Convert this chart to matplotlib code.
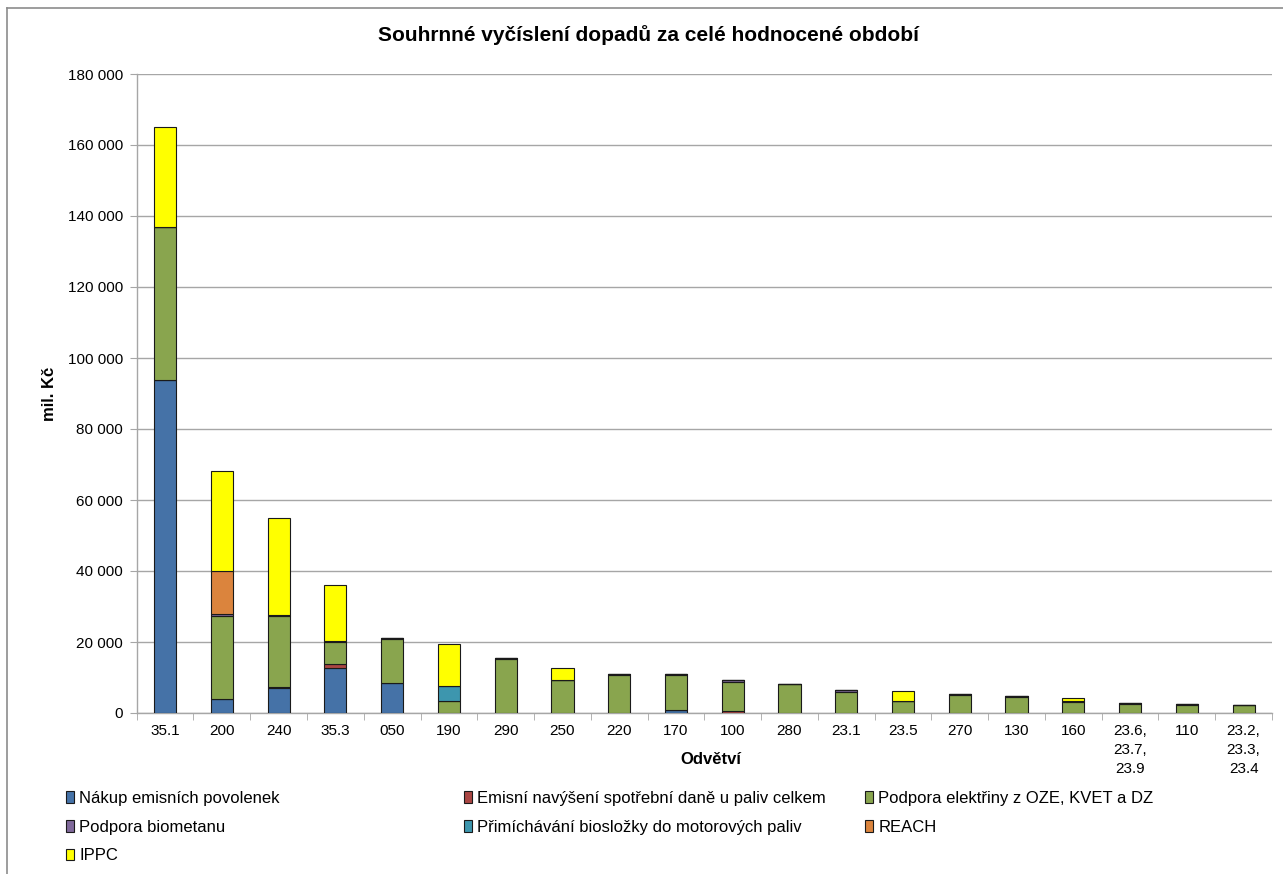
import matplotlib
matplotlib.use("Agg")
import matplotlib.pyplot as plt
from matplotlib.ticker import FuncFormatter, MultipleLocator, FixedLocator
from matplotlib.lines import Line2D
import numpy as np

plt.rcParams['font.family'] = ['Liberation Sans', 'DejaVu Sans']

title = "Souhrnné vyčíslení dopadů za celé hodnocené období"
ylabel = "mil. Kč"
xlabel = "Odvětví"

categories = ['35.1', '200', '240', '35.3', '050', '190', '290', '250', '220', '170',
              '100', '280', '23.1', '23.5', '270', '130', '160',
              '23.6,\n23.7,\n23.9', '110', '23.2,\n23.3,\n23.4']

series_names = [
    "Nákup emisních povolenek",
    "Emisní navýšení spotřební daně u paliv celkem",
    "Podpora elektřiny z OZE, KVET a DZ",
    "Podpora biometanu",
    "Přimíchávání biosložky do motorových paliv",
    "REACH",
    "IPPC",
]

nakup = [93800, 3850, 7000, 12800, 8400, 0, 0, 0, 0, 800,
         0, 0, 0, 0, 0, 0, 0, 0, 0, 0]
dan = [0, 0, 300, 1100, 0, 0, 0, 0, 0, 0,
       700, 0, 0, 0, 0, 0, 0, 0, 0, 0]
elektrina = [43000, 23600, 19900, 6000, 12500, 3300, 15300, 9200, 10600, 9900,
             8100, 8150, 6000, 3500, 5200, 4400, 3200, 2600, 2200, 2150]
biometan = [200, 300, 300, 300, 300, 0, 300, 0, 300, 200,
            600, 100, 500, 0, 100, 400, 300, 100, 300, 50]
bioslozka = [0, 0, 0, 0, 0, 4200, 0, 0, 0, 0,
             0, 0, 0, 0, 0, 0, 0, 0, 0, 0]
reach = [0, 12200, 0, 0, 0, 0, 0, 0, 0, 0,
         0, 0, 0, 0, 0, 0, 0, 0, 0, 0]
ippc = [28200, 28200, 27500, 15800, 0, 12000, 0, 3500, 0, 0,
        0, 0, 0, 2600, 0, 0, 700, 0, 0, 0]

colors = ['#4572A7', '#AA4643', '#89A54E', '#80699B', '#3D96AE', '#DB843D', '#FFFF00']

W, H = 1283, 874
fig = plt.figure(figsize=(W / 100, H / 100), dpi=100)
fig.patch.set_facecolor('white')

ax = fig.add_axes([136.7 / W, 1 - 713 / H, (1272 - 136.7) / W, (713 - 74) / H])

x = np.arange(len(categories))
bottom = np.zeros(len(categories))
containers = []
for vals, col, name in zip([nakup, dan, elektrina, biometan, bioslozka, reach, ippc],
                           colors, series_names):
    v = np.array(vals, dtype=float)
    bc = ax.bar(x, v, width=0.39, bottom=bottom, color=col, edgecolor='#1a1a1a',
                linewidth=0.8, label=name, zorder=3)
    containers.append(bc)
    bottom += v

ax.set_xlim(-0.5, len(categories) - 0.5)
ax.set_ylim(0, 180000)
ax.yaxis.set_major_locator(MultipleLocator(20000))
ax.yaxis.set_major_formatter(FuncFormatter(lambda v, p: f"{int(v):,}".replace(',', ' ')))
ax.grid(axis='y', color='#a6a6a6', linewidth=1.0, zorder=0)
ax.set_axisbelow(True)

for s in ['top', 'right']:
    ax.spines[s].set_visible(False)
for s in ['left', 'bottom']:
    ax.spines[s].set_color('#a6a6a6')
    ax.spines[s].set_linewidth(1.0)

ax.tick_params(axis='y', which='major', length=5, color='#a6a6a6', labelsize=11, pad=5)
ax.set_xticks(x)
ax.set_xticklabels(categories, fontsize=11, linespacing=1.45, va='top')
ax.tick_params(axis='x', which='major', length=0, pad=8)
ax.xaxis.set_minor_locator(FixedLocator(np.arange(len(categories) + 1) - 0.5))
ax.tick_params(axis='x', which='minor', length=5, color='#a6a6a6')

fig.text(648 / W, 1 - 35 / H, title, fontsize=15, fontweight='bold',
         ha='center', va='center')
fig.text(50 / W, 1 - 394 / H, ylabel, fontsize=12, fontweight='bold',
         ha='center', va='center', rotation=90)
fig.text(711 / W, 1 - 760 / H, xlabel, fontsize=12, fontweight='bold',
         ha='center', va='center')

# legend laid out in three fixed columns, filled row by row
cols = [[0, 3, 6], [1, 4], [2, 5]]
col_x = [66, 464, 865]
for idx, cx in zip(cols, col_x):
    fig.legend([containers[i] for i in idx], [series_names[i] for i in idx],
               loc='upper left', bbox_to_anchor=(cx / W, 1 - 791 / H),
               frameon=False, fontsize=12, handlelength=0.5, handleheight=0.7,
               handletextpad=0.3, labelspacing=0.82, borderaxespad=0,
               borderpad=0)

# outer chart frame (left and top edges)
fig.add_artist(Line2D([7 / W, 7 / W], [0, 1 - 8 / H], transform=fig.transFigure,
                      color='#8c8c8c', linewidth=1.2))
fig.add_artist(Line2D([7 / W, 1], [1 - 8 / H, 1 - 8 / H], transform=fig.transFigure,
                      color='#8c8c8c', linewidth=1.2))

fig.savefig('out.png', dpi=100, facecolor='white')
